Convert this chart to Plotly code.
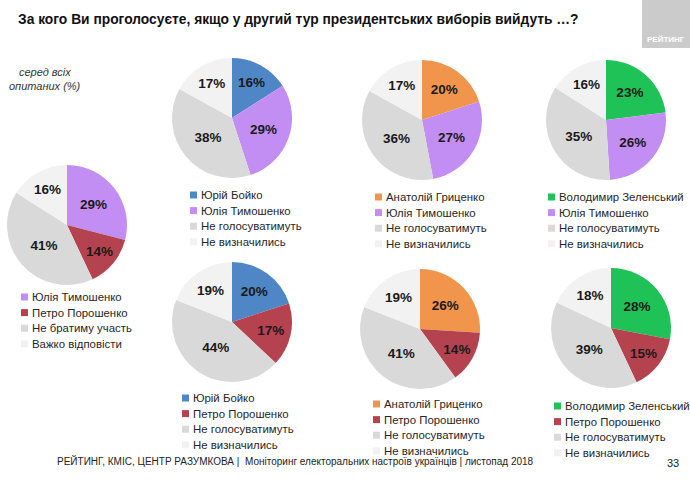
import plotly.graph_objects as go

W, H = 690, 484

TITLE = "За кого Ви проголосуєте, якщо у другий тур президентських виборів вийдуть …?"
SUBTITLE = ["серед всіх", "опитаних (%)"]
FOOTER = "РЕЙТИНГ, КМІС, ЦЕНТР РАЗУМКОВА |  Моніторинг електоральних настроїв українців | листопад 2018"
PAGE = "33"
LOGO = "РЕЙТИНГ"

# --- data ---
labels_a = ["Юлія Тимошенко", "Петро Порошенко", "Не братиму участь", "Важко відповісти"]
values_a = [29, 14, 41, 16]

labels_b = ["Юрій Бойко", "Юлія Тимошенко", "Не голосуватимуть", "Не визначились"]
values_b = [16, 29, 38, 17]

labels_c = ["Анатолій Гриценко", "Юлія Тимошенко", "Не голосуватимуть", "Не визначились"]
values_c = [20, 27, 36, 17]

labels_d = ["Володимир Зеленський", "Юлія Тимошенко", "Не голосуватимуть", "Не визначились"]
values_d = [23, 26, 35, 16]

labels_e = ["Юрій Бойко", "Петро Порошенко", "Не голосуватимуть", "Не визначились"]
values_e = [20, 17, 44, 19]

labels_f = ["Анатолій Гриценко", "Петро Порошенко", "Не голосуватимуть", "Не визначились"]
values_f = [26, 14, 41, 19]

labels_g = ["Володимир Зеленський", "Петро Порошенко", "Не голосуватимуть", "Не визначились"]
values_g = [28, 15, 39, 18]

COLORS = {
    "Юлія Тимошенко": "#C38EF4",
    "Петро Порошенко": "#B5434F",
    "Юрій Бойко": "#4F86C6",
    "Анатолій Гриценко": "#F0954B",
    "Володимир Зеленський": "#1EC257",
    "Не братиму участь": "#D9D9D9",
    "Не голосуватимуть": "#D9D9D9",
    "Важко відповісти": "#F2F2F2",
    "Не визначились": "#F2F2F2",
}

# layout: (labels, values, pie centre x, y, legend text x, first row y)
pies = [
    (labels_a, values_a, 67, 225, 31, 297),
    (labels_b, values_b, 232, 118, 200, 195),
    (labels_c, values_c, 422, 120, 385, 197),
    (labels_d, values_d, 606, 120, 558, 197),
    (labels_e, values_e, 232, 322, 192, 398),
    (labels_f, values_f, 420, 329, 383, 404),
    (labels_g, values_g, 611, 328, 564, 406),
]
R = 60
ROW = 15.6

FONT = "Liberation Sans, Arial, sans-serif"

fig = go.Figure()
shapes = []
annotations = []

def px(x):
    return x / W

def py(y):
    return 1 - y / H

for labels, values, cx, cy, lx, ly in pies:
    fig.add_trace(go.Pie(
        labels=labels,
        values=values,
        sort=False,
        direction="clockwise",
        rotation=0,
        domain=dict(x=[px(cx - R), px(cx + R)], y=[py(cy + R), py(cy - R)]),
        marker=dict(colors=[COLORS[l] for l in labels], line=dict(width=0)),
        texttemplate="%{value}%",
        textposition="inside",
        insidetextorientation="horizontal",
        textfont=dict(family=FONT, size=13.5, color="#1a1a1a", weight="bold"),
        hoverinfo="label+value",
        showlegend=False,
    ))
    for i, lab in enumerate(labels):
        yc = ly + i * ROW
        shapes.append(dict(type="rect", xref="paper", yref="paper",
                           x0=px(lx - 10), x1=px(lx - 3),
                           y0=py(yc + 3.5), y1=py(yc - 3.5),
                           fillcolor=COLORS[lab], line=dict(width=0)))
        annotations.append(dict(text=lab, x=px(lx - 1), y=py(yc), xref="paper", yref="paper",
                                xanchor="left", yanchor="middle", showarrow=False,
                                font=dict(family=FONT, size=11.4, color="#262626")))

# title
annotations.append(dict(text="<b>" + TITLE + "</b>", x=px(16), y=py(20), xref="paper", yref="paper",
                        xanchor="left", yanchor="middle", showarrow=False,
                        font=dict(family=FONT, size=13.8, color="#111111")))
# subtitle
for i, t in enumerate(SUBTITLE):
    annotations.append(dict(text="<i>" + t + "</i>", x=px(45), y=py(72 + i * 14), xref="paper", yref="paper",
                            xanchor="center", yanchor="middle", showarrow=False,
                            font=dict(family=FONT, size=11, color="#333333")))
# footer
annotations.append(dict(text=FOOTER, x=px(55), y=py(461), xref="paper", yref="paper",
                        xanchor="left", yanchor="middle", showarrow=False,
                        font=dict(family=FONT, size=10, color="#222222")))
annotations.append(dict(text=PAGE, x=px(681), y=py(463), xref="paper", yref="paper",
                        xanchor="right", yanchor="middle", showarrow=False,
                        font=dict(family=FONT, size=11, color="#222222")))
# logo box
shapes.append(dict(type="rect", xref="paper", yref="paper",
                   x0=px(642), x1=1, y0=py(48), y1=1,
                   fillcolor="#CBCBCB", line=dict(width=0)))
annotations.append(dict(text="<b>" + LOGO + "</b>", x=px(666), y=py(39), xref="paper", yref="paper",
                        xanchor="center", yanchor="middle", showarrow=False,
                        font=dict(family=FONT, size=8, color="#FFFFFF")))

fig.update_layout(
    width=W, height=H,
    margin=dict(l=0, r=0, t=0, b=0),
    paper_bgcolor="white",
    plot_bgcolor="white",
    shapes=shapes,
    annotations=annotations,
    showlegend=False,
)

fig.write_html("out.html", config={"displayModeBar": False},
               post_script="document.body.style.margin='0';")
